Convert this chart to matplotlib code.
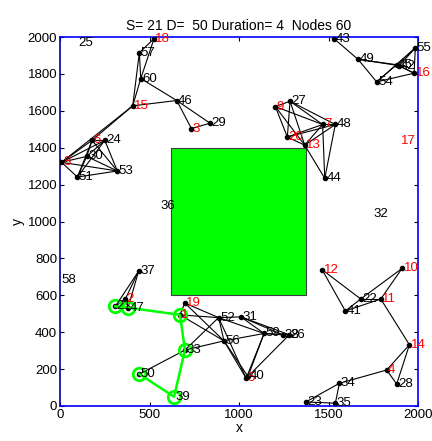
import matplotlib
matplotlib.use('Agg')
import matplotlib.pyplot as plt
from matplotlib.patches import Rectangle

plt.rcParams['font.family'] = ['Liberation Sans', 'DejaVu Sans']

# node coordinates, node i is at index i-1
node_x = [670, 365, 734, 1825, 1040, 179, 1467, 8, 1203, 1911,
          1792, 1464, 1367, 1952, 406, 1978, 1895, 525, 697, 1270,
          309, 1680, 1374, 250, 92, 1281, 1285, 1881, 838, 149,
          1011, 1741, 698, 1561, 1538, 551, 439, 1244, 637, 1050,
          1594, 1895, 1531, 1479, 1881, 652, 380, 1538, 1665, 443,
          97, 886, 320, 1769, 1985, 916, 443, 2, 1140, 451]
node_y = [494, 580, 1504, 195, 150, 1440, 1526, 1321, 1623, 746,
          580, 739, 1414, 332, 1627, 1804, 1438, 1991, 558, 1458,
          540, 580, 22, 1440, 1969, 386, 1652, 119, 1533, 1353,
          483, 1043, 303, 123, 15, 1086, 731, 386, 50, 160,
          515, 1845, 1991, 1234, 1850, 1656, 533, 1526, 1879, 173,
          1241, 479, 1274, 1757, 1941, 353, 1915, 681, 393, 1775]

links = [(18, 57), (18, 60), (57, 60), (57, 15), (60, 15), (15, 46), (60, 46),
         (46, 3), (46, 29), (3, 29), (15, 8), (15, 6),
         (6, 24), (6, 8), (6, 30), (6, 51), (6, 53), (24, 8), (24, 30), (24, 51),
         (24, 53), (30, 8), (30, 51), (30, 53), (8, 51), (8, 53), (51, 53),
         (43, 49), (49, 45), (49, 42), (49, 54), (54, 45), (54, 55), (54, 16),
         (45, 55), (45, 16), (42, 55), (42, 16), (55, 16),
         (9, 27), (9, 20), (9, 7), (9, 13), (27, 20), (27, 7), (27, 48), (27, 13),
         (20, 7), (20, 48), (20, 13), (7, 48), (7, 13), (7, 44), (48, 13),
         (48, 44), (13, 44),
         (37, 2), (37, 21), (37, 47), (2, 21), (2, 47),
         (19, 1), (19, 52), (19, 56), (1, 52), (1, 56), (1, 33), (33, 52),
         (33, 56), (33, 50), (52, 31), (52, 56), (52, 59), (52, 5), (31, 59),
         (31, 38), (31, 26), (56, 5), (56, 40), (56, 59), (59, 38), (59, 26),
         (59, 5), (59, 40), (26, 40),
         (12, 22), (12, 41), (22, 41), (22, 10), (22, 11), (41, 11), (11, 10),
         (11, 14), (14, 4), (14, 28), (4, 28), (4, 34), (34, 23), (34, 35),
         (23, 35)]

route = [21, 47, 1, 33, 39, 50]
src, dst, duration = 21, 50, 4

fig = plt.figure(figsize=(4.32, 4.41), dpi=100)
ax = fig.add_axes([0.139, 0.0794, 0.8286, 0.8366])

ax.add_patch(Rectangle((620, 600), 755, 800, facecolor=(0, 1, 0),
                       edgecolor='#404040', linewidth=0.8, zorder=1))

for a, b in links:
    ax.plot([node_x[a - 1], node_x[b - 1]], [node_y[a - 1], node_y[b - 1]],
            color='black', linewidth=0.8, zorder=2)

linked = set()
for a, b in links:
    linked.add(a)
    linked.add(b)
for n in sorted(linked):
    ax.plot(node_x[n - 1], node_y[n - 1], 'o', color='black', markersize=3, zorder=3)

rx = [node_x[n - 1] for n in route]
ry = [node_y[n - 1] for n in route]
ax.plot(rx, ry, color=(0, 1, 0), linewidth=1.8, zorder=4)
ax.plot(rx, ry, 'o', markerfacecolor='none', markeredgecolor=(0, 1, 0),
        markeredgewidth=2, markersize=9, linestyle='', zorder=5)

for i in range(len(node_x)):
    col = 'red' if i + 1 <= 20 else 'black'
    ax.text(node_x[i] + 8, node_y[i], str(i + 1), color=col, fontsize=9.5,
            ha='left', va='center', zorder=6)

ax.set_xlim(0, 2000)
ax.set_ylim(0, 2000)
ax.set_xticks([0, 500, 1000, 1500, 2000])
ax.set_yticks(range(0, 2001, 200))
ax.tick_params(direction='in', length=3, labelsize=9.5, top=True, right=True, pad=2)
for s in ax.spines.values():
    s.set_color('blue')
    s.set_linewidth(1.2)
ax.spines['left'].set_color('#0000a0')

ax.set_title('S= %d D=  %d Duration= %d  Nodes %d' % (src, dst, duration, len(node_x)),
             fontsize=10, pad=5)
ax.set_xlabel('x', fontsize=10, labelpad=0)
ax.set_ylabel('y', fontsize=10, labelpad=2)

plt.savefig('out.png', dpi=100)
